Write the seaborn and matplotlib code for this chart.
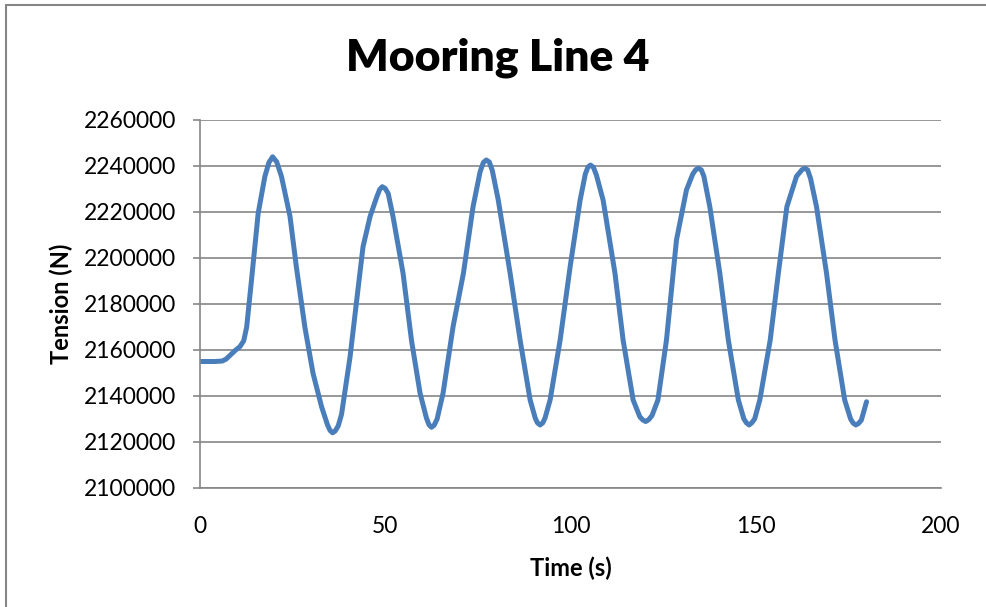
import matplotlib
matplotlib.use("Agg")
import matplotlib.pyplot as plt
import seaborn as sns
import pandas as pd
from matplotlib.lines import Line2D

time_s = [0, 2, 4, 6, 7, 8, 9.5, 10.8, 11.8, 12.6, 13.9, 15.7, 17.5, 18.6, 19.6, 20.7, 22, 24.3,
          26, 28.3, 30.5, 32.8, 34.4, 35.1, 35.8, 36.5, 37.3, 38.2, 40.5, 42.3, 44, 45.9, 47.7,
          48.5, 49.2, 50, 50.8, 52.1, 54.8, 57.1, 59.4, 61.1, 61.8, 62.5, 63.2, 64, 65.6, 68.3,
          71.1, 73.7, 75.6, 76.5, 77.3, 78.1, 78.9, 80.5, 83.7, 86.4, 89.1, 90.5, 91.1, 91.8, 92.5,
          93.1, 94.5, 97.2, 99.9, 102.6, 104, 104.7, 105.4, 106.2, 107, 108.8, 112, 114.2, 116.9,
          118.7, 119.5, 120.3, 121.1, 122, 123.6, 125.9, 128.6, 131.3, 133, 133.8, 134.5, 135.3,
          136, 137.6, 140.3, 142.6, 145.3, 146.8, 147.5, 148.2, 148.9, 149.7, 151.1, 153.9, 156.1,
          158.4, 161, 162.5, 163.3, 164, 164.8, 166.4, 169.1, 171.4, 174, 175.6, 176.3, 177,
          177.7, 178.5, 179.9]
tension_n = [2155000, 2155000, 2155000, 2155200, 2156000, 2157500, 2159800, 2161500, 2164000,
             2170000, 2190400, 2219400, 2235400, 2241500, 2244000, 2241800, 2235400, 2218000,
             2196200, 2170000, 2149900, 2135400, 2127500, 2125000, 2124000, 2124800, 2127000,
             2132000, 2157000, 2181700, 2204900, 2218000, 2226500, 2229800, 2231000, 2230200,
             2228000, 2218000, 2193400, 2164000, 2141200, 2130500, 2127500, 2126400, 2127300,
             2130000, 2141200, 2170100, 2193400, 2222300, 2237500, 2241600, 2242600, 2241700,
             2238000, 2225200, 2193400, 2164300, 2138300, 2130300, 2128300, 2127400, 2128300,
             2130300, 2138300, 2164300, 2196200, 2225200, 2236500, 2239500, 2240400, 2239400,
             2236000, 2225200, 2193400, 2164300, 2138300, 2131000, 2129600, 2128900, 2129700,
             2131500, 2138300, 2164300, 2207800, 2229600, 2236500, 2238400, 2239000, 2238300,
             2235500, 2222300, 2193400, 2164300, 2138300, 2130000, 2128300, 2127400, 2128300,
             2130000, 2138300, 2164300, 2193400, 2222300, 2235500, 2238400, 2239000, 2238300,
             2234500, 2222300, 2193400, 2164300, 2138300, 2130000, 2128200, 2127400, 2128000,
             2129500, 2137500]

y_ticks = [2100000, 2120000, 2140000, 2160000, 2180000, 2200000, 2220000, 2240000, 2260000]
x_ticks = [0, 50, 100, 150, 200]

df = pd.DataFrame({"Time (s)": time_s, "Tension (N)": tension_n})

sns.set_theme(style="white")
plt.rcParams["font.family"] = ["Lato", "DejaVu Sans"]

fig = plt.figure(figsize=(9.87, 6.07), dpi=100)
ax = fig.add_axes([200 / 987, 1 - 488 / 607, 741 / 987, 368 / 607])

sns.lineplot(data=df, x="Time (s)", y="Tension (N)", ax=ax, color="#4a7ebb",
             linewidth=3.6, solid_joinstyle="round", solid_capstyle="round", sort=False)

ax.set_xlim(0, 200)
ax.set_ylim(2100000, 2260000)
ax.set_xticks(x_ticks)
ax.set_yticks(y_ticks)
ax.set_xticklabels([str(v) for v in x_ticks])
ax.set_yticklabels([str(v) for v in y_ticks])
ax.yaxis.grid(True, color="#868686", linewidth=1.2)
ax.xaxis.grid(False)
ax.set_axisbelow(True)
for s in ["top", "right"]:
    ax.spines[s].set_visible(False)
for s in ["left", "bottom"]:
    ax.spines[s].set_color("#868686")
    ax.spines[s].set_linewidth(1.2)
ax.tick_params(axis="y", which="both", left=True, length=5, width=1.2, color="#868686",
               labelsize=16.5, labelcolor="black", pad=12)
ax.tick_params(axis="x", which="both", bottom=False, labelsize=16.5, labelcolor="black", pad=14)

ax.set_xlabel("Time (s)", fontsize=17, fontweight="bold", labelpad=14, color="black")
ax.set_ylabel("Tension (N)", fontsize=17, fontweight="bold", labelpad=8, color="black")

fig.text(498 / 987, 1 - 58 / 607, "Mooring Line 4", ha="center", va="center",
         fontsize=32, fontweight="heavy", color="black")

# outer chart border (left and top visible)
fig.add_artist(Line2D([6 / 987, 6 / 987], [0, 1 - 5 / 607], transform=fig.transFigure,
                      color="#868686", linewidth=1.5))
fig.add_artist(Line2D([6 / 987, 1], [1 - 5 / 607, 1 - 5 / 607], transform=fig.transFigure,
                      color="#868686", linewidth=1.5))

fig.savefig("out.png", dpi=100)
